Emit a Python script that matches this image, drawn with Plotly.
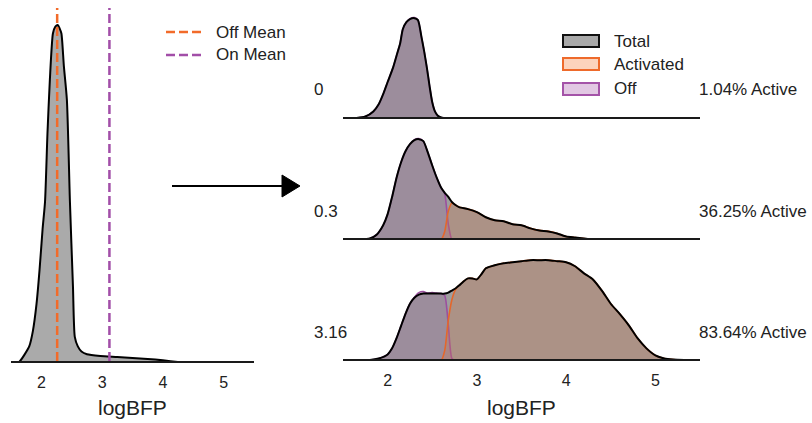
import plotly.graph_objects as go

W, H = 812, 423

# ---------------- data ----------------
# left panel: overall distribution
left_x = [1.5, 1.6, 1.65, 1.72, 1.8, 1.86, 1.92, 1.97, 2.02, 2.06, 2.1, 2.14, 2.19, 2.23, 2.27, 2.3, 2.33,
          2.37, 2.42, 2.47, 2.52, 2.55, 2.6, 2.66, 2.75, 2.97, 3.25, 3.5, 3.75, 4.0, 4.25, 4.5, 4.75, 5.0, 5.5]
left_y = [0.0, 0.004, 0.012, 0.03, 0.055, 0.10, 0.18, 0.28, 0.40, 0.48, 0.68, 0.84, 0.975, 0.995, 1.0, 0.99,
          0.975, 0.88, 0.78, 0.48, 0.23, 0.083, 0.055, 0.04, 0.032, 0.027, 0.024, 0.021, 0.018, 0.014, 0.009,
          0.004, 0.0015, 0.0, 0.0]
off_mean = 2.26
on_mean = 3.12

# right panel rows
row_labels = ["0", "0.3", "3.16"]
active_pct = [1.04, 36.25, 83.64]

x0 = [1.5, 1.65, 1.75, 1.84, 1.9, 1.95, 2.0, 2.06, 2.1, 2.14, 2.17, 2.21, 2.25, 2.3, 2.34, 2.38, 2.41,
      2.44, 2.47, 2.5, 2.53, 2.56, 2.6, 2.7, 5.5]
total0 = [0.0, 0.005, 0.02, 0.07, 0.14, 0.24, 0.36, 0.5, 0.62, 0.74, 0.88, 0.95, 0.98, 0.99, 0.97, 0.8, 0.66,
          0.5, 0.32, 0.16, 0.07, 0.03, 0.01, 0.0, 0.0]
off0 = [0.0, 0.005, 0.02, 0.07, 0.14, 0.24, 0.36, 0.5, 0.62, 0.74, 0.88, 0.95, 0.985, 0.995, 0.97, 0.8, 0.66,
        0.5, 0.32, 0.16, 0.07, 0.03, 0.01, 0.0, 0.0]
act0 = [0.0, 0.0, 0.0, 0.0, 0.0, 0.0, 0.0, 0.0, 0.0, 0.0, 0.0, 0.0, 0.0, 0.0, 0.0, 0.0, 0.0,
        0.0, 0.0, 0.0, 0.0, 0.005, 0.005, 0.0, 0.0]

x1 = [1.5, 1.8, 1.88, 1.95, 2.0, 2.05, 2.1, 2.15, 2.2, 2.25, 2.3, 2.35, 2.4, 2.45, 2.5, 2.55, 2.6, 2.64,
      2.68, 2.72, 2.76, 2.8, 2.9, 3.0, 3.1, 3.2, 3.3, 3.4, 3.5, 3.6, 3.7, 3.8, 3.9, 4.0, 4.1, 4.2, 4.3, 5.5]
total1 = [0.0, 0.01, 0.05, 0.14, 0.25, 0.42, 0.61, 0.76, 0.87, 0.94, 0.98, 0.99, 0.97, 0.86, 0.73, 0.61, 0.51,
          0.46, 0.42, 0.37, 0.34, 0.32, 0.30, 0.27, 0.22, 0.19, 0.18, 0.15, 0.14, 0.11, 0.09, 0.08, 0.06, 0.03,
          0.02, 0.01, 0.0, 0.0]
off1 = [0.0, 0.01, 0.05, 0.14, 0.25, 0.42, 0.61, 0.76, 0.87, 0.94, 0.985, 0.995, 0.97, 0.86, 0.73, 0.61, 0.51,
        0.45, 0.15, 0.0, 0.0, 0.0, 0.0, 0.0, 0.0, 0.0, 0.0, 0.0, 0.0, 0.0, 0.0, 0.0, 0.0, 0.0,
        0.0, 0.0, 0.0, 0.0]
act1 = [0.0, 0.0, 0.0, 0.0, 0.0, 0.0, 0.0, 0.0, 0.0, 0.0, 0.0, 0.0, 0.0, 0.0, 0.0, 0.0, 0.0,
        0.08, 0.28, 0.36, 0.34, 0.32, 0.30, 0.27, 0.22, 0.19, 0.18, 0.15, 0.14, 0.11, 0.09, 0.08, 0.06, 0.03,
        0.02, 0.01, 0.0, 0.0]

x2 = [1.5, 1.8, 1.9, 2.0, 2.05, 2.1, 2.15, 2.2, 2.25, 2.3, 2.35, 2.4, 2.45, 2.5, 2.55, 2.6, 2.64, 2.68, 2.72,
      2.76, 2.8, 2.85, 2.9, 2.95, 3.0, 3.05, 3.1, 3.2, 3.3, 3.4, 3.5, 3.6, 3.7, 3.8, 3.9, 4.0, 4.1, 4.2,
      4.3, 4.4, 4.5, 4.6, 4.7, 4.8, 4.9, 5.0, 5.1, 5.2, 5.5]
total2 = [0.0, 0.005, 0.02, 0.06, 0.12, 0.22, 0.34, 0.46, 0.56, 0.62, 0.65, 0.66, 0.66, 0.66, 0.66, 0.66, 0.66,
          0.67, 0.69, 0.71, 0.74, 0.78, 0.81, 0.81, 0.80, 0.85, 0.91, 0.94, 0.96, 0.97, 0.98, 0.99, 0.99, 0.99,
          0.98, 0.97, 0.93, 0.86, 0.80, 0.69, 0.56, 0.46, 0.35, 0.22, 0.12, 0.05, 0.02, 0.01, 0.0]
off2 = [0.0, 0.005, 0.02, 0.06, 0.12, 0.22, 0.34, 0.46, 0.56, 0.625, 0.67, 0.68, 0.665, 0.67, 0.665, 0.66, 0.64,
        0.35, 0.02, 0.0, 0.0, 0.0, 0.0, 0.0, 0.0, 0.0, 0.0, 0.0, 0.0, 0.0, 0.0, 0.0, 0.0, 0.0,
        0.0, 0.0, 0.0, 0.0, 0.0, 0.0, 0.0, 0.0, 0.0, 0.0, 0.0, 0.0, 0.0, 0.0, 0.0]
act2 = [0.0, 0.0, 0.0, 0.0, 0.0, 0.0, 0.0, 0.0, 0.0, 0.0, 0.0, 0.0, 0.0, 0.0, 0.0, 0.0, 0.1,
        0.4, 0.6, 0.7, 0.74, 0.78, 0.81, 0.81, 0.80, 0.85, 0.91, 0.94, 0.96, 0.97, 0.98, 0.99, 0.99, 0.99,
        0.98, 0.97, 0.93, 0.86, 0.80, 0.69, 0.56, 0.46, 0.35, 0.22, 0.12, 0.05, 0.02, 0.01, 0.0]

rows_x = [x0, x1, x2]
rows_total = [total0, total1, total2]
rows_off = [off0, off1, off2]
rows_act = [act0, act1, act2]

tick_vals = [2, 3, 4, 5]
x_range = [1.5, 5.5]

# ---------------- styling helpers ----------------
FONT = "Liberation Sans, Arial, Helvetica, sans-serif"
TXT = "#222222"
GRAY_L = "#aaaaaa"
GRAY_R = "#9e9e9e"
OFF_LINE = "#9b4f9f"
OFF_FILL = "rgba(150,90,150,0.25)"
ACT_LINE = "#e4672b"
ACT_FILL = "rgba(205,120,80,0.30)"


def px(xp):
    return xp / W


def py(yp):
    return (H - yp) / H


fig = go.Figure()

# left panel
fig.add_trace(go.Scatter(x=left_x, y=left_y, mode="lines", fill="tozeroy", fillcolor=GRAY_L,
                         line=dict(color="black", width=2, shape="spline", smoothing=0.6),
                         xaxis="x", yaxis="y", showlegend=False, hoverinfo="skip"))

# right panel rows
base_px = [117, 238, 359]
row_h = 110  # px for y range [0, 1.1]
for i in range(3):
    xa = "x%d" % (i + 2)
    ya = "y%d" % (i + 2)
    xs = rows_x[i]
    fig.add_trace(go.Scatter(x=xs, y=rows_total[i], mode="lines", fill="tozeroy", fillcolor=GRAY_R,
                             line=dict(width=0, shape="spline", smoothing=0.6),
                             xaxis=xa, yaxis=ya, showlegend=False, hoverinfo="skip"))
    fig.add_trace(go.Scatter(x=xs, y=rows_off[i], mode="lines", fill="tozeroy", fillcolor=OFF_FILL,
                             line=dict(color=OFF_LINE, width=1.6, shape="spline", smoothing=0.6),
                             xaxis=xa, yaxis=ya, showlegend=False, hoverinfo="skip"))
    fig.add_trace(go.Scatter(x=xs, y=rows_act[i], mode="lines", fill="tozeroy", fillcolor=ACT_FILL,
                             line=dict(color=ACT_LINE, width=1.6, shape="spline", smoothing=0.6),
                             xaxis=xa, yaxis=ya, showlegend=False, hoverinfo="skip"))
    fig.add_trace(go.Scatter(x=xs, y=rows_total[i], mode="lines",
                             line=dict(color="black", width=2, shape="spline", smoothing=0.6),
                             xaxis=xa, yaxis=ya, showlegend=False, hoverinfo="skip"))

axis_common = dict(range=x_range, showgrid=False, zeroline=False, showline=True, linecolor="#1a1a1a",
                   linewidth=2, ticks="outside", ticklen=6, tickcolor="rgba(0,0,0,0)",
                   tickvals=tick_vals, tickfont=dict(family=FONT, size=16, color=TXT), fixedrange=True)

layout = dict(
    width=W, height=H, margin=dict(l=0, r=0, t=0, b=0),
    paper_bgcolor="white", plot_bgcolor="white", showlegend=False,
    font=dict(family=FONT, color=TXT),
    xaxis=dict(domain=[px(11), px(254)], anchor="y", **axis_common),
    yaxis=dict(domain=[py(361), py(8)], range=[0.012, 1.05], visible=False, fixedrange=True),
)
for i in range(3):
    n = i + 2
    ax = dict(axis_common)
    if i < 2:
        ax["showticklabels"] = False
    layout["xaxis%d" % n] = dict(domain=[px(343), px(700)], anchor="y%d" % n, **ax)
    layout["yaxis%d" % n] = dict(domain=[py(base_px[i]), py(base_px[i] - row_h)], range=[0.015, 1.1],
                                 visible=False, fixedrange=True)
fig.update_layout(**layout)

shapes = []
ann = []

# mean lines in left panel
shapes.append(dict(type="line", xref="x", yref="y", x0=off_mean, x1=off_mean, y0=0.012, y1=1.05,
                   line=dict(color="#f26b2a", width=2.5, dash="9px,4px")))
shapes.append(dict(type="line", xref="x", yref="y", x0=on_mean, x1=on_mean, y0=0.012, y1=1.05,
                   line=dict(color="#a24ea8", width=2.5, dash="9px,4px")))

# left legend
for yy, col, lab in [(32, "#f26b2a", "Off Mean"), (55, "#a24ea8", "On Mean")]:
    shapes.append(dict(type="line", xref="paper", yref="paper", x0=px(166), x1=px(201), y0=py(yy), y1=py(yy),
                       line=dict(color=col, width=2.5, dash="9px,4px")))
    ann.append(dict(x=px(214), y=py(yy), xref="paper", yref="paper", text=lab, showarrow=False,
                    xanchor="left", yanchor="middle", font=dict(family=FONT, size=17, color=TXT)))

# right legend
for yy, fc, lc, lab in [(41, "#a9a9a9", "#111111", "Total"), (64, "#fcd3bc", "#ee6a2b", "Activated"),
                        (89, "#e2c8e3", "#a453a8", "Off")]:
    shapes.append(dict(type="rect", xref="paper", yref="paper", x0=px(563), x1=px(599), y0=py(yy - 6),
                       y1=py(yy + 6), fillcolor=fc, line=dict(color=lc, width=2)))
    ann.append(dict(x=px(612), y=py(yy), xref="paper", yref="paper", text=lab, showarrow=False,
                    xanchor="left", yanchor="middle", font=dict(family=FONT, size=17, color=TXT)))

# arrow
shapes.append(dict(type="line", xref="paper", yref="paper", x0=px(172), x1=px(284), y0=py(186), y1=py(186),
                   line=dict(color="black", width=2)))
shapes.append(dict(type="path", xref="paper", yref="paper",
                   path="M %f,%f L %f,%f L %f,%f Z" % (px(282), py(175), px(300), py(186), px(282), py(197)),
                   fillcolor="black", line=dict(color="black", width=1)))

# row labels
for i in range(3):
    yy = base_px[i] - 27
    ann.append(dict(x=px(312), y=py(yy), xref="paper", yref="paper", text=row_labels[i], showarrow=False,
                    xanchor="left", yanchor="middle", font=dict(family=FONT, size=17, color=TXT)))
    ann.append(dict(x=px(697), y=py(yy), xref="paper", yref="paper", text="%.2f%% Active" % active_pct[i],
                    showarrow=False, xanchor="left", yanchor="middle", font=dict(family=FONT, size=17, color=TXT)))

# axis titles
for xc in [132.5, 521.5]:
    ann.append(dict(x=px(xc), y=py(407), xref="paper", yref="paper", text="logBFP", showarrow=False,
                    xanchor="center", yanchor="middle", font=dict(family=FONT, size=21, color=TXT)))

fig.update_layout(shapes=shapes, annotations=ann)
fig.write_html("out.html", config={"displayModeBar": False, "staticPlot": True},
               post_script="document.body.style.margin='0';document.body.style.overflow='hidden';")
